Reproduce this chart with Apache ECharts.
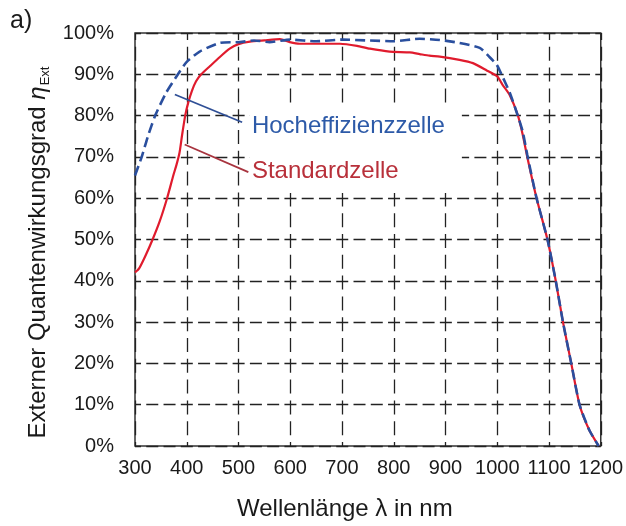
<!DOCTYPE html>
<html>
<head>
<meta charset="utf-8">
<script src="https://cdn.jsdelivr.net/npm/echarts@6/dist/echarts.min.js"></script>
<style>
  html, body { margin: 0; padding: 0; background: #fff; }
  #chart { width: 626px; height: 526px; }
</style>
</head>
<body>
<div id="chart"></div>
<script>
// Standardzelle (rot, durchgezogen)
const stdLambda = [300, 308, 320, 334, 348, 362, 374, 380, 386, 391, 397, 403, 410, 418, 428, 445, 464, 483, 500, 522, 550, 580, 599, 618, 650, 696, 729, 754, 792, 831, 850, 869, 889, 927, 953, 979, 1000, 1010, 1024, 1040, 1049, 1058, 1076, 1097, 1113, 1127, 1143, 1159, 1178, 1196];
const stdEta = [42, 43, 46, 50, 54.5, 60, 65.5, 68, 71, 75.3, 80, 83.2, 86, 88.3, 90, 92, 94.2, 96.2, 97.3, 97.9, 98.2, 98.5, 97.8, 97.4, 97.4, 97.4, 96.9, 96.2, 95.5, 95.3, 94.9, 94.5, 94.3, 93.5, 92.7, 91, 89.5, 87.5, 85, 80, 75.5, 70, 60, 50, 40, 30, 20, 10, 3.8, 0];

// Hocheffizienzzelle (blau, gestrichelt)
const heLambda = [300, 313, 325, 339, 360, 383, 400, 425, 464, 503, 530, 560, 600, 650, 700, 750, 800, 850, 889, 927, 966, 985, 999, 1011, 1024, 1037, 1049, 1058, 1076, 1097, 1113, 1127, 1143, 1159, 1178, 1196];
const heEta = [65.5, 70, 75, 80, 85.5, 90, 93, 95.5, 97.6, 97.8, 98.2, 97.8, 98.4, 98, 98.4, 98.2, 98, 98.6, 98.3, 97.6, 96.4, 94.2, 92.3, 89.2, 85.6, 81, 76.2, 70.5, 60, 50, 40, 30, 20, 10, 3.8, 0];

// Beschriftungen mit Hinweislinie: [Start, Ende] in Datenkoordinaten
const heLeader = [[377, 85.1], [507, 78.4]];
const stdLeader = [[396, 73], [519, 66.3]];
const heLabelAt = [522, 77.4];
const stdLabelAt = [522, 66.6];

const FONT = "'Liberation Sans', Arial, sans-serif";
const textColor = '#1a1a1a';
const gridColor = '#222';
const blue = '#2a4f9e';
const red = '#e01b2d';

const toPairs = (xs, ys) => xs.map((x, i) => [x, ys[i]]);

const labelPoint = (coord, text, color) => ({
  symbol: 'circle',
  symbolSize: 0,
  silent: true,
  data: [{ coord: coord, value: text }],
  label: {
    show: true,
    position: [0, 0],
    align: 'left',
    verticalAlign: 'middle',
    formatter: text,
    color: color,
    fontFamily: FONT,
    fontSize: 24,
    lineHeight: 28,
    width: 206,
    backgroundColor: '#fff',
    padding: [8, 4, 8, 2]
  }
});

const leader = (pts, color) => ({
  silent: true,
  symbol: 'none',
  label: { show: false },
  lineStyle: { color: color, width: 1.8, type: 'solid' },
  data: [[{ coord: pts[0] }, { coord: pts[1] }]]
});

const chart = echarts.init(document.getElementById('chart'));

chart.setOption({
  animation: false,
  grid: {
    left: 135,
    top: 33,
    width: 466,
    height: 416,
    show: true,
    borderColor: '#333',
    borderWidth: 1.5,
    backgroundColor: 'transparent'
  },
  graphic: [
    {
      type: 'text',
      left: 10,
      top: 9,
      style: { text: 'a)', font: '25px ' + FONT, fill: textColor }
    }
  ],
  xAxis: {
    type: 'value',
    min: 300,
    max: 1200,
    interval: 100,
    name: 'Wellenlänge λ in nm',
    nameLocation: 'middle',
    nameGap: 51,
    nameTextStyle: { fontFamily: FONT, fontSize: 24, color: textColor, padding: [0, 46, 0, 0] },
    axisLine: { show: false },
    axisTick: { show: false },
    axisLabel: { fontFamily: FONT, fontSize: 20, color: textColor, margin: 12, formatter: (v) => String(v) },
    splitLine: {
      show: true,
      lineStyle: { color: gridColor, width: 1.3, type: [14, 6.8], dashOffset: 7 }
    }
  },
  yAxis: {
    type: 'value',
    min: 0,
    max: 100,
    interval: 10,
    name: '{a|Externer Quantenwirkungsgrad }{b|η}{c|Ext}',
    nameLocation: 'middle',
    nameGap: 80,
    nameTextStyle: {
      color: textColor,
      padding: [0, 26, 0, 0],
      rich: {
        a: { fontFamily: FONT, fontSize: 24, color: textColor, lineHeight: 28 },
        b: { fontFamily: FONT, fontSize: 24, fontStyle: 'italic', color: textColor, lineHeight: 28 },
        c: { fontFamily: FONT, fontSize: 13, color: textColor, lineHeight: 28, verticalAlign: 'bottom', padding: [0, 0, 0, 1] }
      }
    },
    axisLine: { show: false },
    axisTick: { show: false },
    axisLabel: { fontFamily: FONT, fontSize: 20, color: textColor, margin: 21, formatter: '{value}%' },
    splitLine: {
      show: true,
      lineStyle: { color: gridColor, width: 1.3, type: [12, 5.27], dashOffset: 6 }
    }
  },
  series: [
    {
      name: 'Standardzelle',
      type: 'line',
      data: toPairs(stdLambda, stdEta),
      smooth: 0.2,
      showSymbol: false,
      z: 3,
      lineStyle: { color: red, width: 2.2 },
      markLine: leader(stdLeader, '#a8343f'),
      markPoint: labelPoint(stdLabelAt, 'Standardzelle', '#b8303a')
    },
    {
      name: 'Hocheffizienzzelle',
      type: 'line',
      data: toPairs(heLambda, heEta),
      smooth: 0.2,
      showSymbol: false,
      z: 4,
      lineStyle: { color: blue, width: 2.6, type: [10, 5] },
      markLine: leader(heLeader, '#2f4f96'),
      markPoint: labelPoint(heLabelAt, 'Hocheffizienzzelle', '#2d5aa8')
    }
  ]
});
</script>
</body>
</html>
